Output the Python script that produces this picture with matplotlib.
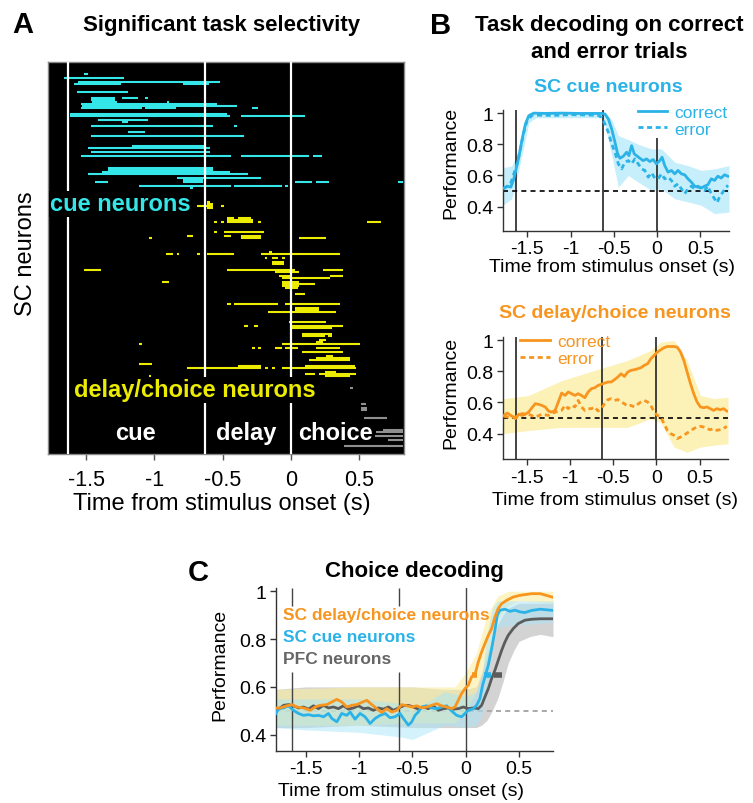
import matplotlib
matplotlib.use('Agg')
import matplotlib.pyplot as plt

plt.rcParams['font.family'] = ['Liberation Sans', 'DejaVu Sans']
plt.rcParams['axes.unicode_minus'] = False

# ---------------- data ----------------
epoch_times = [-1.63, -0.63, 0.0]
xticks = [-1.5, -1, -0.5, 0, 0.5]
xticklabels = ['-1.5', '-1', '-0.5', '0', '0.5']
yticks = [0.4, 0.6, 0.8, 1.0]
yticklabels = ['0.4', '0.6', '0.8', '1']
epoch_names = ['cue', 'delay', 'choice']
epoch_label_t = [-1.141, -0.324, 0.328]

# Panel A: (neuron row, start time, end time) of significant task selectivity
cue_segments = [
    (6, -1.515, -1.490), (8, -1.661, -1.220), (10, -1.563, -0.520),
    (11, -1.588, -1.244), (11, -0.788, -0.598), (15, -1.568, -1.190),
    (18, -1.466, -1.288), (18, -1.239, -1.117), (18, -1.068, -1.044),
    (19, -1.466, -1.288), (20, -1.459, -1.276), (20, -0.910, -0.893),
    (21, -1.539, -0.544), (22, -1.532, -0.393), (23, -1.539, -1.093),
    (23, -1.068, -0.841), (23, -0.288, -0.244), (26, -1.617, -0.471),
    (27, -1.617, -0.446), (27, -0.366, 0.107), (29, -1.417, -1.044),
    (30, -1.239, -1.195), (32, -1.466, -0.568), (32, -0.415, -0.393),
    (35, -1.190, -1.068), (37, -1.466, -0.344), (42, -1.166, -0.634),
    (43, -1.488, -0.593), (45, -1.466, -0.593), (47, -1.539, -0.441),
    (47, -0.366, 0.132), (47, 0.163, 0.232), (53, -1.337, -0.568),
    (54, -1.337, -0.568), (55, -1.385, -0.446), (56, -1.488, -0.317),
    (58, -0.837, -0.220), (59, -0.788, -0.641), (60, -1.439, -1.341),
    (60, -0.788, -0.641), (60, 0.034, 0.159), (60, 0.188, 0.280),
    (60, 0.785, 0.822), (62, -1.112, -0.441), (62, -0.415, -0.063),
    (62, -0.039, -0.020), (63, -0.739, -0.720),
]
dc_segments = [
    (70, -0.612, -0.593), (71, -0.617, -0.568), (72, -0.690, -0.568),
    (72, -0.515, -0.490), (73, -0.617, -0.568), (78, -0.466, -0.415),
    (78, -0.390, -0.293), (79, -0.466, -0.276), (80, -0.563, -0.544),
    (80, -0.515, -0.490), (80, -0.466, -0.276), (80, -0.239, -0.220),
    (80, 0.561, 0.659), (85, -0.563, -0.539), (85, -0.490, -0.198),
    (87, -0.763, -0.720), (87, -0.490, -0.441), (87, -0.366, -0.220),
    (88, -1.039, -1.020), (88, -0.366, -0.220), (88, 0.059, 0.261),
    (95, -0.161, -0.141), (96, -0.915, -0.866), (96, -0.837, -0.817),
    (96, -0.690, -0.666), (96, -0.617, -0.417), (96, -0.215, 0.359),
    (98, -0.190, -0.171), (98, -0.141, -0.093), (98, -0.068, -0.044),
    (100, -0.141, -0.049), (101, -0.141, -0.049), (104, -1.515, -1.393),
    (104, -0.466, 0.029), (104, 0.237, 0.383), (105, -0.117, 0.059),
    (107, -0.088, -0.007), (107, 0.285, 0.383), (108, -0.068, 0.285),
    (110, -0.941, -0.890), (110, -0.063, 0.059), (111, -0.063, 0.180),
    (112, -0.063, 0.059), (113, -0.044, 0.054), (116, 0.034, 0.107),
    (121, -0.466, -0.441), (121, -0.415, -0.093), (121, -0.039, 0.359),
    (123, 0.034, 0.205), (124, 0.034, 0.205), (125, -0.166, 0.334),
    (130, -0.015, 0.261), (132, -0.341, -0.317), (132, -0.268, -0.244),
    (132, 0.010, 0.383), (133, 0.005, 0.302), (136, 0.083, 0.302),
    (137, 0.083, 0.249), (137, 0.273, 0.302), (139, 0.205, 0.261),
    (140, 0.188, 0.237), (141, -1.112, -1.093), (141, -0.063, 0.510),
    (143, -0.288, -0.263), (143, -0.239, -0.215), (143, -0.117, -0.068),
    (143, -0.039, 0.054), (143, 0.188, 0.359), (145, 0.083, 0.383),
    (147, 0.261, 0.310), (148, 0.188, 0.432), (149, 0.132, 0.437),
    (151, -1.112, -1.020), (152, -0.385, -0.215), (152, 0.102, 0.468),
    (153, -0.763, -0.215), (153, -0.190, -0.166), (153, -0.141, -0.117),
    (153, -0.068, 0.480), (155, 0.249, 0.334), (156, 0.107, 0.180),
    (156, 0.205, 0.480), (157, -1.039, -1.024), (157, 0.249, 0.432),
]
other_segments = [
    (163, 0.437, 0.456), (171, 0.512, 0.554), (173, 0.512, 0.561),
    (174, 0.512, 0.561), (178, 0.537, 0.707), (184, 0.676, 0.822),
    (185, 0.627, 0.822), (187, 0.615, 0.822), (189, 0.712, 0.822),
    (192, 0.390, 0.822),
]

# Panel B top: SC cue neurons, task decoding
b1_t_correct = [-1.77, -1.73, -1.69, -1.655, -1.628, -1.598, -1.559, -1.521, -1.483, -1.425,
                -1.30, -1.10, -0.90, -0.64, -0.602, -0.563, -0.525, -0.487, -0.456, -0.429,
                -0.391, -0.352, -0.326, -0.295, -0.264, -0.238, -0.199, -0.161, -0.123, -0.084,
                -0.046, -0.008, 0.031, 0.057, 0.088, 0.126, 0.165, 0.203, 0.241, 0.280,
                0.318, 0.356, 0.395, 0.433, 0.471, 0.510, 0.548, 0.586, 0.625, 0.663,
                0.701, 0.739, 0.778, 0.816]
b1_correct = [0.519, 0.531, 0.525, 0.578, 0.642, 0.717, 0.834, 0.930, 0.983, 1.0,
              0.998, 1.0, 0.998, 0.998, 0.994, 0.962, 0.898, 0.813, 0.738, 0.710,
              0.723, 0.749, 0.727, 0.791, 0.738, 0.727, 0.710, 0.695, 0.706, 0.689,
              0.702, 0.674, 0.695, 0.717, 0.663, 0.621, 0.632, 0.610, 0.632, 0.610,
              0.604, 0.578, 0.557, 0.531, 0.525, 0.519, 0.531, 0.540, 0.578, 0.568,
              0.595, 0.583, 0.604, 0.595]
b1_t_error = [-1.77, -1.693, -1.655, -1.617, -1.579, -1.540, -1.502, -1.444, -1.368, -1.20,
              -1.00, -0.80, -0.678, -0.640, -0.602, -0.563, -0.525, -0.487, -0.448, -0.410,
              -0.372, -0.333, -0.295, -0.257, -0.218, -0.180, -0.142, -0.103, -0.065, -0.027,
              0.011, 0.050, 0.088, 0.126, 0.165, 0.203, 0.241, 0.280, 0.318, 0.356,
              0.395, 0.433, 0.471, 0.510, 0.548, 0.586, 0.625, 0.663, 0.693, 0.720,
              0.759, 0.797, 0.82]
b1_error = [0.514, 0.546, 0.610, 0.674, 0.770, 0.876, 0.951, 0.987, 0.987, 0.985,
            0.990, 0.988, 0.985, 0.972, 0.930, 0.876, 0.802, 0.749, 0.674, 0.642,
            0.685, 0.695, 0.674, 0.706, 0.674, 0.642, 0.632, 0.589, 0.617, 0.583,
            0.578, 0.610, 0.578, 0.589, 0.568, 0.531, 0.546, 0.514, 0.482, 0.514,
            0.531, 0.514, 0.531, 0.519, 0.504, 0.531, 0.482, 0.450, 0.425, 0.461,
            0.493, 0.525, 0.536]
b1_band_t = [-1.78, -1.68, -1.60, -1.48, -1.40, -0.65, -0.60, -0.525, -0.448, -0.333,
             -0.218, -0.065, 0.05, 0.203, 0.356, 0.51, 0.663, 0.83]
b1_band_lo = [0.41, 0.45, 0.63, 0.94, 0.97, 0.97, 0.92, 0.73, 0.525, 0.60,
              0.557, 0.504, 0.514, 0.45, 0.43, 0.408, 0.355, 0.365]
b1_band_hi = [0.65, 0.66, 0.76, 1.0, 1.01, 1.01, 1.0, 0.96, 0.855, 0.83,
              0.80, 0.77, 0.77, 0.685, 0.663, 0.632, 0.642, 0.663]

# Panel B bottom: SC delay/choice neurons, task decoding
b2_t_correct = [-1.770, -1.732, -1.674, -1.636, -1.598, -1.559, -1.521, -1.483, -1.444, -1.406,
                -1.368, -1.330, -1.291, -1.253, -1.215, -1.176, -1.138, -1.100, -1.061, -1.023,
                -0.985, -0.946, -0.908, -0.870, -0.831, -0.793, -0.755, -0.716, -0.678, -0.640,
                -0.602, -0.563, -0.525, -0.487, -0.448, -0.410, -0.372, -0.333, -0.295, -0.257,
                -0.218, -0.180, -0.142, -0.103, -0.065, -0.027, 0.011, 0.050, 0.088, 0.126,
                0.165, 0.203, 0.241, 0.280, 0.318, 0.356, 0.395, 0.433, 0.471, 0.510,
                0.548, 0.586, 0.625, 0.663, 0.701, 0.739, 0.778, 0.816]
b2_correct = [0.517, 0.532, 0.511, 0.496, 0.524, 0.517, 0.524, 0.538, 0.566, 0.592,
              0.588, 0.581, 0.571, 0.545, 0.538, 0.549, 0.603, 0.660, 0.645, 0.667,
              0.656, 0.645, 0.656, 0.645, 0.630, 0.667, 0.688, 0.694, 0.709, 0.716,
              0.724, 0.731, 0.731, 0.746, 0.763, 0.784, 0.767, 0.795, 0.806, 0.810,
              0.816, 0.823, 0.838, 0.848, 0.880, 0.902, 0.923, 0.938, 0.951, 0.959,
              0.959, 0.959, 0.955, 0.923, 0.870, 0.795, 0.720, 0.656, 0.603, 0.571,
              0.566, 0.571, 0.560, 0.549, 0.560, 0.553, 0.560, 0.545]
b2_t_error = [-1.770, -1.713, -1.636, -1.559, -1.483, -1.406, -1.330, -1.253, -1.176, -1.100,
              -1.061, -1.023, -0.985, -0.946, -0.908, -0.870, -0.831, -0.793, -0.755, -0.716,
              -0.678, -0.640, -0.602, -0.563, -0.525, -0.487, -0.448, -0.410, -0.372, -0.333,
              -0.295, -0.257, -0.218, -0.180, -0.142, -0.103, -0.065, -0.027, 0.011, 0.050,
              0.088, 0.126, 0.165, 0.203, 0.241, 0.280, 0.318, 0.356, 0.395, 0.433,
              0.471, 0.510, 0.548, 0.586, 0.625, 0.663, 0.701, 0.739, 0.778, 0.816]
b2_error = [0.511, 0.506, 0.506, 0.528, 0.524, 0.506, 0.524, 0.517, 0.538, 0.549,
            0.581, 0.560, 0.581, 0.571, 0.613, 0.571, 0.549, 0.560, 0.560, 0.571,
            0.545, 0.560, 0.592, 0.618, 0.624, 0.613, 0.618, 0.603, 0.592, 0.575,
            0.581, 0.571, 0.588, 0.603, 0.613, 0.603, 0.581, 0.538, 0.517, 0.506,
            0.464, 0.421, 0.400, 0.389, 0.368, 0.378, 0.389, 0.404, 0.417, 0.432,
            0.442, 0.447, 0.442, 0.432, 0.425, 0.432, 0.421, 0.425, 0.432, 0.447]
b2_band_t = [-1.78, -1.483, -1.10, -0.716, -0.333, -0.065, 0.05, 0.203, 0.356, 0.51, 0.663, 0.83]
b2_band_lo = [0.40, 0.42, 0.44, 0.44, 0.44, 0.496, 0.47, 0.314, 0.28, 0.314, 0.325, 0.335]
b2_band_hi = [0.624, 0.645, 0.74, 0.806, 0.87, 0.934, 0.987, 0.998, 0.87, 0.645, 0.624, 0.634]

# Panel C: choice decoding
c_t_dc = [-1.78, -1.741, -1.678, -1.631, -1.584, -1.522, -1.459, -1.413, -1.366, -1.303,
          -1.256, -1.209, -1.163, -1.116, -1.069, -1.022, -0.975, -0.928, -0.881, -0.834,
          -0.788, -0.741, -0.694, -0.647, -0.600, -0.553, -0.506, -0.459, -0.413, -0.366,
          -0.319, -0.272, -0.225, -0.178, -0.131, -0.100, -0.069, -0.038, -0.006, 0.025,
          0.056, 0.088, 0.119, 0.150, 0.181, 0.213, 0.244, 0.275, 0.306, 0.338,
          0.384, 0.447, 0.509, 0.556, 0.62, 0.70, 0.78, 0.82]
c_dc = [0.512, 0.512, 0.521, 0.526, 0.516, 0.512, 0.502, 0.516, 0.523, 0.526,
        0.537, 0.548, 0.537, 0.516, 0.523, 0.526, 0.535, 0.544, 0.526, 0.509,
        0.493, 0.509, 0.495, 0.502, 0.526, 0.521, 0.516, 0.521, 0.512, 0.516,
        0.523, 0.530, 0.521, 0.516, 0.509, 0.516, 0.544, 0.572, 0.593, 0.607,
        0.642, 0.652, 0.705, 0.746, 0.781, 0.816, 0.844, 0.893, 0.928, 0.948,
        0.962, 0.976, 0.983, 0.986, 0.990, 0.990, 0.980, 0.975]
c_t_cue = [-1.78, -1.756, -1.709, -1.663, -1.616, -1.569, -1.522, -1.475, -1.428, -1.381,
           -1.334, -1.288, -1.256, -1.209, -1.163, -1.116, -1.084, -1.038, -0.991, -0.944,
           -0.897, -0.850, -0.803, -0.756, -0.709, -0.663, -0.616, -0.584, -0.538, -0.506,
           -0.475, -0.444, -0.413, -0.366, -0.319, -0.272, -0.225, -0.178, -0.131, -0.084,
           -0.038, -0.006, 0.025, 0.072, 0.103, 0.134, 0.159, 0.181, 0.213, 0.244,
           0.275, 0.297, 0.322, 0.369, 0.416, 0.463, 0.509, 0.556, 0.62, 0.70, 0.82]
c_cue = [0.489, 0.509, 0.512, 0.521, 0.502, 0.489, 0.481, 0.484, 0.479, 0.481,
         0.475, 0.489, 0.468, 0.454, 0.489, 0.481, 0.495, 0.465, 0.489, 0.475,
         0.447, 0.468, 0.481, 0.489, 0.471, 0.475, 0.489, 0.468, 0.440, 0.454,
         0.481, 0.495, 0.516, 0.521, 0.512, 0.509, 0.516, 0.521, 0.499, 0.481,
         0.475, 0.489, 0.502, 0.509, 0.523, 0.551, 0.607, 0.642, 0.691, 0.760,
         0.837, 0.900, 0.921, 0.925, 0.916, 0.921, 0.914, 0.911, 0.920, 0.925, 0.920]
c_t_pfc = [-1.78, -1.756, -1.709, -1.663, -1.616, -1.569, -1.522, -1.475, -1.428, -1.381,
           -1.334, -1.288, -1.241, -1.194, -1.147, -1.100, -1.053, -1.006, -0.959, -0.913,
           -0.866, -0.819, -0.772, -0.725, -0.678, -0.631, -0.584, -0.538, -0.491, -0.444,
           -0.397, -0.350, -0.303, -0.256, -0.209, -0.163, -0.116, -0.069, -0.022, 0.025,
           0.072, 0.119, 0.150, 0.181, 0.213, 0.244, 0.275, 0.306, 0.338, 0.369,
           0.400, 0.447, 0.494, 0.556, 0.62, 0.70, 0.82]
c_pfc = [0.502, 0.507, 0.523, 0.526, 0.521, 0.512, 0.516, 0.507, 0.521, 0.509,
         0.523, 0.512, 0.516, 0.509, 0.521, 0.507, 0.512, 0.521, 0.509, 0.512,
         0.502, 0.512, 0.507, 0.516, 0.502, 0.512, 0.521, 0.523, 0.516, 0.507,
         0.516, 0.509, 0.521, 0.502, 0.509, 0.512, 0.507, 0.509, 0.516, 0.509,
         0.512, 0.509, 0.523, 0.558, 0.593, 0.635, 0.670, 0.711, 0.753, 0.788,
         0.816, 0.844, 0.865, 0.879, 0.883, 0.885, 0.885]
c_band_t_pfc = [-1.78, -1.5, -1.0, -0.5, -0.2, 0.0, 0.1, 0.15, 0.2, 0.25, 0.3, 0.35, 0.4, 0.45, 0.5, 0.6, 0.7, 0.82]
c_band_lo_pfc = [0.43, 0.43, 0.44, 0.43, 0.43, 0.43, 0.43, 0.44, 0.46, 0.50, 0.55, 0.62, 0.70, 0.75, 0.79, 0.81, 0.82, 0.81]
c_band_hi_pfc = [0.59, 0.60, 0.60, 0.60, 0.59, 0.59, 0.60, 0.66, 0.74, 0.80, 0.86, 0.90, 0.93, 0.94, 0.95, 0.95, 0.95, 0.95]
c_band_t_dc = [-1.78, -1.0, -0.5, -0.1, 0.0, 0.1, 0.2, 0.3, 0.4, 0.5, 0.82]
c_band_lo_dc = [0.44, 0.44, 0.45, 0.45, 0.50, 0.58, 0.72, 0.88, 0.94, 0.96, 0.95]
c_band_hi_dc = [0.59, 0.60, 0.60, 0.60, 0.66, 0.74, 0.90, 0.98, 1.0, 1.0, 1.0]
c_band_t_cue = [-1.78, -1.5, -1.0, -0.6, -0.5, -0.2, 0.0, 0.1, 0.15, 0.2, 0.25, 0.3, 0.5, 0.82]
c_band_lo_cue = [0.43, 0.42, 0.41, 0.39, 0.38, 0.44, 0.43, 0.44, 0.48, 0.60, 0.78, 0.85, 0.86, 0.87]
c_band_hi_cue = [0.55, 0.55, 0.55, 0.53, 0.50, 0.58, 0.56, 0.58, 0.64, 0.82, 0.93, 0.96, 0.96, 0.96]
# latency markers (y level, start, end)
c_latency_level = 0.65
c_latency_dc = (0.056, 0.109)
c_latency_cue = (0.172, 0.234)
c_latency_pfc = (0.265, 0.340)
c_legend_labels = ['SC delay/choice neurons', 'SC cue neurons', 'PFC neurons']

# ---------------- style ----------------
CYAN_A = '#35e6e8'
YELLOW_A = '#ecec00'
GRAY_A = '#8f8f8f'
CUE = '#2bb3e8'
CUE_BAND = '#c6eefb'
ORANGE = '#f7951e'
ORANGE_BAND = '#fcf2b8'
PFC = '#5c5c5c'
PFC_BAND = '#b0b0b0'
C_CUE_BAND = '#a8e6f8'
C_DC_BAND = '#fbee9e'

W, H = 753, 804
fig = plt.figure(figsize=(W / 100, H / 100), dpi=100)


def add_px(l, t, r, b):
    return fig.add_axes([l / W, 1 - b / H, (r - l) / W, (b - t) / H])


def ftext(x, y, s, **kw):
    kw.setdefault('ha', 'center')
    kw.setdefault('va', 'center')
    fig.text(x / W, 1 - y / H, s, **kw)


# ---------------- Panel A ----------------
axA = add_px(48, 63, 404, 455)
axA.set_facecolor('black')
for segs, col in ((cue_segments, CYAN_A), (dc_segments, YELLOW_A), (other_segments, GRAY_A)):
    axA.hlines([s[0] for s in segs], [s[1] for s in segs], [s[2] for s in segs],
               colors=col, lw=1.5, zorder=2)
for t in epoch_times:
    axA.axvline(t, color='white', lw=1.6, zorder=3)
axA.set_xlim(-1.78, 0.83)
axA.set_ylim(196, 0)
axA.set_yticks([])
axA.set_xticks(xticks, xticklabels)
axA.tick_params(axis='x', length=4, width=1, labelsize=15.5, pad=7, color='#555')
for s in axA.spines.values():
    s.set_color('#888')
    s.set_linewidth(1)
axA.text(-1.763, 70.8, 'cue neurons', color=CYAN_A, fontsize=17, fontweight='bold',
         ha='left', va='center', zorder=5,
         bbox=dict(facecolor='black', edgecolor='none', pad=1))
axA.text(-1.593, 164, 'delay/choice neurons', color=YELLOW_A, fontsize=17, fontweight='bold',
         ha='left', va='center', zorder=5,
         bbox=dict(facecolor='black', edgecolor='none', pad=1))
for name, t in zip(epoch_names, epoch_label_t):
    axA.text(t, 185.3, name, color='white', fontsize=17, fontweight='bold',
             ha='center', va='center', zorder=5)

ftext(23, 25, 'A', fontsize=21, fontweight='bold')
ftext(222, 26, 'Significant task selectivity', fontsize=16, fontweight='bold')
ftext(26, 254, 'SC neurons', fontsize=17, rotation=90)
ftext(222, 504, 'Time from stimulus onset (s)', fontsize=17)


def style_ax(ax, ylo, yhi):
    for s in ('top', 'right'):
        ax.spines[s].set_visible(False)
    for s in ('left', 'bottom'):
        ax.spines[s].set_linewidth(1)
        ax.spines[s].set_color('#333')
    ax.set_xlim(-1.78, 0.83)
    ax.set_ylim(ylo, yhi)
    ax.set_xticks(xticks, xticklabels)
    ax.set_yticks(yticks, yticklabels)
    ax.tick_params(direction='out', length=4, width=1, labelsize=14, pad=3, color='#333')


# ---------------- Panel B top ----------------
axB1 = add_px(503, 111, 729, 231.7)
style_ax(axB1, 0.245, 1.02)
axB1.fill_between(b1_band_t, b1_band_lo, b1_band_hi, color=CUE_BAND, lw=0, zorder=1)
for t in epoch_times:
    axB1.axvline(t, color='#222', lw=1.2, zorder=2)
axB1.axhline(0.5, color='black', lw=1.2, ls=(0, (3, 2.5)), zorder=2)
axB1.plot(b1_t_correct, b1_correct, color=CUE, lw=2, label='correct', zorder=3)
axB1.plot(b1_t_error, b1_error, color=CUE, lw=2, ls=(0, (1.8, 1.3)), label='error', zorder=3)
leg = axB1.legend(loc='upper right', bbox_to_anchor=(1.0, 1.06), fontsize=12.5,
                  handlelength=1.7, handletextpad=0.4, labelspacing=0.1, borderpad=0.1,
                  borderaxespad=0, labelcolor='linecolor', frameon=True)
leg.get_frame().set_facecolor('white')
leg.get_frame().set_edgecolor('none')
leg.get_frame().set_alpha(1)
leg.set_zorder(4)

# ---------------- Panel B bottom ----------------
axB2 = add_px(503, 338, 728, 460)
style_ax(axB2, 0.237, 1.02)
axB2.fill_between(b2_band_t, b2_band_lo, b2_band_hi, color=ORANGE_BAND, lw=0, zorder=1)
for t in epoch_times:
    axB2.axvline(t, color='#222', lw=1.2, zorder=2)
axB2.axhline(0.5, color='black', lw=1.2, ls=(0, (3, 2.5)), zorder=2)
axB2.plot(b2_t_correct, b2_correct, color=ORANGE, lw=2, label='correct', zorder=3)
axB2.plot(b2_t_error, b2_error, color=ORANGE, lw=2, ls=(0, (1.8, 1.3)), label='error', zorder=3)
leg2 = axB2.legend(loc='upper left', bbox_to_anchor=(0.07, 1.04), fontsize=12.5,
                   handlelength=1.7, handletextpad=0.4, labelspacing=0.1, borderpad=0.1,
                   borderaxespad=0, labelcolor='linecolor', frameon=False)
leg2.set_zorder(4)

ftext(441, 26, 'B', fontsize=21, fontweight='bold')
ftext(609, 26, 'Task decoding on correct', fontsize=16, fontweight='bold')
ftext(609, 52, 'and error trials', fontsize=16, fontweight='bold')
ftext(608, 88, 'SC cue neurons', fontsize=14, fontweight='bold', color=CUE)
ftext(615, 313, 'SC delay/choice neurons', fontsize=14, fontweight='bold', color=ORANGE)
ftext(451, 163, 'Performance', fontsize=14, rotation=90)
ftext(451, 393, 'Performance', fontsize=14, rotation=90)
ftext(612, 268, 'Time from stimulus onset (s)', fontsize=14)
ftext(615, 501, 'Time from stimulus onset (s)', fontsize=14)

# ---------------- Panel C ----------------
axC = add_px(276, 588.7, 553, 751.5)
style_ax(axC, 0.334, 1.015)
axC.set_xlim(-1.78, 0.82)
axC.fill_between(c_band_t_pfc, c_band_lo_pfc, c_band_hi_pfc, color=PFC_BAND, alpha=0.55, lw=0, zorder=1)
axC.fill_between(c_band_t_dc, c_band_lo_dc, c_band_hi_dc, color=C_DC_BAND, alpha=0.6, lw=0, zorder=1)
axC.fill_between(c_band_t_cue, c_band_lo_cue, c_band_hi_cue, color=C_CUE_BAND, alpha=0.5, lw=0, zorder=1)
axC.axhline(0.5, color='#999', lw=1.2, ls=(0, (3, 2.5)), zorder=0.5)
axC.vlines(epoch_times[:2], 0.334, 0.664, color='#444', lw=1, zorder=2)
axC.vlines(epoch_times[:2], 0.937, 1.015, color='#444', lw=1, zorder=2)
axC.axvline(epoch_times[2], color='#444', lw=1, zorder=2)
axC.plot(c_t_pfc, c_pfc, color=PFC, lw=2, zorder=3)
axC.plot(c_t_cue, c_cue, color=CUE, lw=2, zorder=3)
axC.plot(c_t_dc, c_dc, color=ORANGE, lw=2, zorder=3.1)
for (a, b), col in ((c_latency_dc, ORANGE), (c_latency_cue, CUE), (c_latency_pfc, PFC)):
    axC.hlines(c_latency_level, a, b, color=col, lw=4, zorder=4)

for lab, col, y in zip(c_legend_labels, [ORANGE, CUE, '#666'], [615.5, 637.5, 660]):
    ftext(283, y, lab, fontsize=12.5, fontweight='bold', color=col, ha='left')

ftext(198, 573, 'C', fontsize=21, fontweight='bold')
ftext(414, 572, 'Choice decoding', fontsize=16, fontweight='bold')
ftext(220, 665, 'Performance', fontsize=14, rotation=90)
ftext(401, 792, 'Time from stimulus onset (s)', fontsize=14)

fig.savefig('out.png', dpi=100)
